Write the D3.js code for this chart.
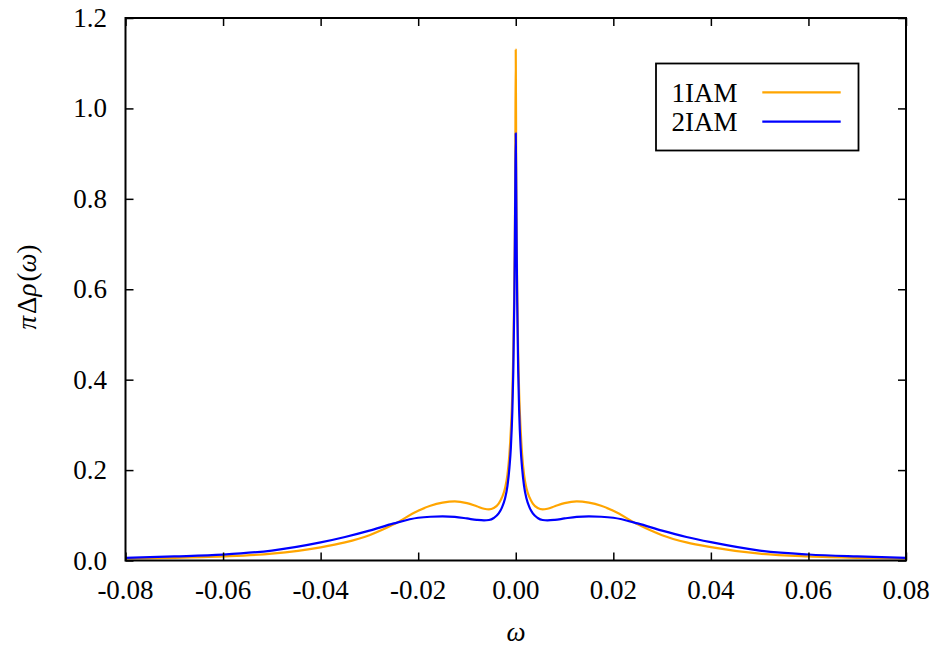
<!DOCTYPE html>
<html>
<head>
<meta charset="utf-8">
<script src="https://cdn.jsdelivr.net/npm/d3@7"></script>
<style>
  html, body { margin: 0; padding: 0; background: #fff; }
</style>
</head>
<body>
<svg id="chart" width="937" height="653"></svg>
<script>
// ---- data ----
const omega = [-0.08,-0.07,-0.06,-0.05,-0.04,-0.035,-0.03,-0.025,-0.02,-0.0175,-0.015,-0.0125,-0.01,-0.008,-0.0065,-0.0055,-0.0045,-0.0035,-0.0028,-0.0022,-0.0017,-0.0013,-0.001,-0.0007,-0.0005,-0.0003,-0.0002,-0.0001,0,
  0.0001,0.0002,0.0003,0.0005,0.0007,0.001,0.0013,0.0017,0.0022,0.0028,0.0035,0.0045,0.0055,0.0065,0.008,0.01,0.0125,0.015,0.0175,0.02,0.025,0.03,0.035,0.04,0.05,0.06,0.07,0.08];

const iam1 = [0.0045,0.006,0.009,0.015,0.029,0.040,0.056,0.080,0.110,0.121,0.128,0.131,0.127,0.120,0.1145,0.113,0.116,0.126,0.140,0.160,0.19,0.235,0.29,0.37,0.46,0.60,0.70,0.85,1.13,
  0.85,0.70,0.60,0.46,0.37,0.29,0.235,0.19,0.160,0.140,0.126,0.116,0.113,0.1145,0.120,0.127,0.131,0.128,0.121,0.110,0.080,0.056,0.040,0.0295,0.015,0.009,0.006,0.0045];

const iam2 = [0.006,0.009,0.013,0.022,0.040,0.052,0.066,0.082,0.0945,0.0968,0.0975,0.0965,0.093,0.0898,0.0886,0.0895,0.094,0.104,0.118,0.137,0.165,0.205,0.25,0.33,0.42,0.57,0.68,0.82,0.945,
  0.82,0.68,0.57,0.42,0.33,0.25,0.205,0.165,0.137,0.118,0.104,0.094,0.0895,0.0886,0.0898,0.093,0.0965,0.0975,0.0968,0.0945,0.082,0.066,0.052,0.0406,0.022,0.0133,0.009,0.006];

const seriesNames = ["1IAM", "2IAM"];
const seriesColors = ["#ffa500", "#0000ff"];
const xTicks = [-0.08,-0.06,-0.04,-0.02,0,0.02,0.04,0.06,0.08];
const yTicks = [0,0.2,0.4,0.6,0.8,1.0,1.2];

// ---- layout ----
const L = 125.5, R = 906, T = 18, B = 560.5;
const FONT = "'Liberation Serif', 'DejaVu Serif', serif";
const FS = 27;
const svg = d3.select("#chart");

const x = d3.scaleLinear().domain([-0.08, 0.08]).range([L, R]);
const y = d3.scaleLinear().domain([0, 1.2]).range([B, T]);

// curves
const series = [iam1, iam2];
const line = d3.line()
  .x((d, i) => x(omega[i]))
  .y(d => y(d))
  .curve(d3.curveMonotoneX);

svg.append("clipPath").attr("id", "clip")
  .append("rect").attr("x", L).attr("y", T).attr("width", R - L).attr("height", B - T);

const g = svg.append("g").attr("clip-path", "url(#clip)");
series.forEach((s, k) => {
  g.append("path")
    .attr("d", line(s))
    .attr("fill", "none")
    .attr("stroke", seriesColors[k])
    .attr("stroke-width", 2.2)
    .attr("stroke-linejoin", "round");
});

// axes (ticks inside, mirrored)
const tl = 8;
const axB = d3.axisBottom(x).tickValues(xTicks).tickSize(-tl).tickFormat("");
const axT = d3.axisTop(x).tickValues(xTicks).tickSize(-tl).tickFormat("");
const axLft = d3.axisLeft(y).tickValues(yTicks).tickSize(-tl).tickFormat("");
const axRt = d3.axisRight(y).tickValues(yTicks).tickSize(-tl).tickFormat("");

[[axB, `translate(0,${B})`], [axT, `translate(0,${T})`], [axLft, `translate(${L},0)`], [axRt, `translate(${R},0)`]].forEach(([a, tr]) => {
  const ga = svg.append("g").attr("transform", tr).call(a);
  ga.select(".domain").remove();
  ga.selectAll("line").attr("stroke", "#000").attr("stroke-width", 1.5);
});

// frame
svg.append("rect").attr("x", L).attr("y", T).attr("width", R - L).attr("height", B - T)
  .attr("fill", "none").attr("stroke", "#000").attr("stroke-width", 2);

// tick labels
const fmtX = d => d3.format(".2f")(d).replace("\u2212", "-");
const fmtY = d => d3.format(".1f")(d);
svg.append("g").selectAll("text").data(xTicks).join("text")
  .attr("x", d => x(d)).attr("y", 598.5)
  .attr("text-anchor", "middle").attr("font-size", FS).attr("font-family", FONT)
  .text(fmtX);
svg.append("g").selectAll("text").data(yTicks).join("text")
  .attr("x", 107).attr("y", d => y(d) + 9)
  .attr("text-anchor", "end").attr("font-size", FS).attr("font-family", FONT)
  .text(fmtY);

// axis titles
svg.append("text").attr("x", 516).attr("y", 641)
  .attr("text-anchor", "middle").attr("font-size", FS).attr("font-family", FONT).attr("font-style", "italic")
  .text("ω");

const yl = svg.append("text")
  .attr("transform", "translate(36,287) rotate(-90)")
  .attr("text-anchor", "middle").attr("font-size", FS).attr("font-family", FONT);
yl.append("tspan").attr("font-style", "italic").text("π");
yl.append("tspan").attr("dx", 2).text("Δ");
yl.append("tspan").attr("font-style", "italic").text("ρ");
yl.append("tspan").attr("dx", 2).text("(");
yl.append("tspan").attr("font-style", "italic").text("ω");
yl.append("tspan").text(")");

// legend
svg.append("rect").attr("x", 656).attr("y", 63.5).attr("width", 202.5).attr("height", 87)
  .attr("fill", "#fff").attr("stroke", "#000").attr("stroke-width", 1.8);
seriesNames.forEach((n, k) => {
  const yy = 92.3 + k * 29.4;
  svg.append("text").attr("x", 671.5).attr("y", yy + 9.5)
    .attr("font-size", FS).attr("font-family", FONT).text(n);
  svg.append("line").attr("x1", 762.3).attr("x2", 840.7).attr("y1", yy).attr("y2", yy)
    .attr("stroke", seriesColors[k]).attr("stroke-width", 2.2);
});
</script>
</body>
</html>
